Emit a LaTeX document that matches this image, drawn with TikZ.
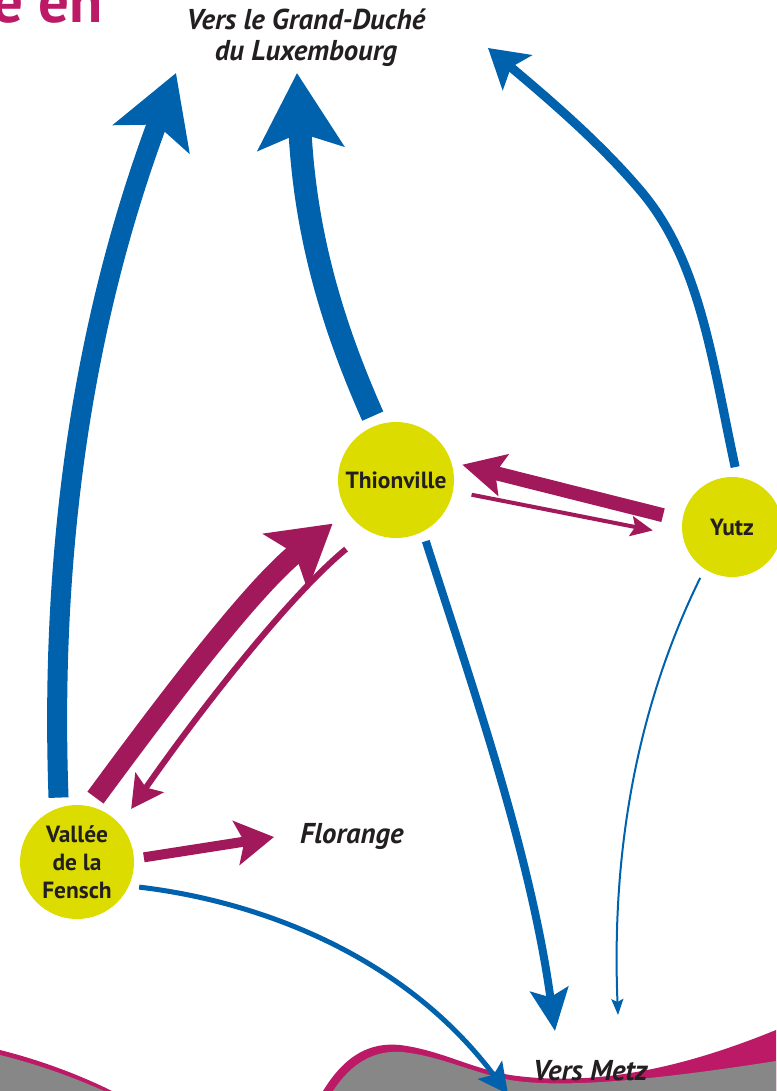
\documentclass[tikz,border=0pt]{standalone}
\usepackage{fontspec}
\setmainfont{PT Sans}
\usetikzlibrary{arrows.meta}
\definecolor{flowblue}{HTML}{0062AD}
\definecolor{flowmag}{HTML}{A2195B}
\definecolor{bandmag}{HTML}{BC1A66}
\definecolor{landgray}{HTML}{878787}
\definecolor{cityyellow}{HTML}{DCDC00}
\definecolor{labelgray}{HTML}{231F20}
\begin{document}
\begin{tikzpicture}[x=0.3mm,y=-0.3mm]\tikzset{city/.style = {circle, fill=cityyellow, inner sep=0pt, outer sep=3mm, align=center, text=labelgray, font=\fontsize{20}{24}\selectfont\bfseries},
	place/.style = {inner sep=0pt, align=center, text=labelgray, font=\fontsize{24.5}{26.5}\selectfont\bfseries\itshape},
	flow/.style n args = {4}{line width=#1, -{Stealth[length=#2, width=#3, inset=#4]}}}

		\useasboundingbox (0,0) rectangle (776,1091);

		\fill[bandmag] (0,1050) .. controls (40,1060) and (80,1075) .. (112,1091) -- (0,1091) -- cycle;
		\fill[landgray] (0,1055) .. controls (40,1065) and (75,1078) .. (104,1091) -- (0,1091) -- cycle;
		\fill[bandmag] (323,1091) .. controls (345,1055) and (370,1042) .. (400,1045) .. controls (440,1050) and (470,1068) .. (510,1075) .. controls (600,1088) and (690,1065) .. (776,1030) -- (776,1091) -- cycle;
		\fill[landgray] (333,1091) .. controls (352,1062) and (375,1050) .. (402,1052) .. controls (440,1056) and (470,1072) .. (510,1080) .. controls (570,1090) and (680,1076) .. (776,1061) -- (776,1091) -- cycle;

		\node[anchor=base east, inner sep=0pt, text=bandmag, font=\fontsize{52}{52}\selectfont\bfseries] (title) at (103,23) {e en};

		\node[city, minimum size=34.8mm] (thion) at (396,480) {Thionville};
		\node[city, minimum size=30mm] (yutz) at (732,527) {Yutz};
		\node[city, minimum size=34.2mm] (vallee) at (77,862) {Vallée\\de la\\Fensch};

		\node[place] (lux) at (306,38) {Vers le Grand-Duché\\du Luxembourg};
		\node[place, anchor=base west] (flor) at (300,843) {Florange};
		\node[place, anchor=base west] (metz) at (533,1080) {Vers Metz};

		\coordinate (luxA) at (176,73);
		\coordinate (luxB) at (297,73);
		\coordinate (luxC) at (488,48);
		\coordinate (metzA) at (555,1031);
		\coordinate (metzB) at (618,1015);
		\coordinate (metzC) at (508,1094);
		\coordinate (florA) at (274,837);

		\draw[flowblue, flow={6mm}{21mm}{24mm}{4.5mm}] (vallee.106) .. controls (50,560) and (80,330) .. (luxA);
		\draw[flowblue, flow={6.9mm}{22.5mm}{25.5mm}{4.5mm}] (thion.110) .. controls (330,320) and (305,230) .. (luxB);
		\draw[flowblue, flow={2.7mm}{11.4mm}{13.5mm}{2.4mm}] (yutz.87) .. controls (712,360) and (700,260) .. (640,190) .. controls (600,143) and (550,100) .. (luxC);
		\draw[flowblue, flow={2.4mm}{12.6mm}{11.4mm}{2.4mm}] (thion.-64) .. controls (470,680) and (530,850) .. (metzA);
		\draw[flowblue, flow={0.6mm}{4.8mm}{3.6mm}{0.9mm}] (yutz.-122) .. controls (650,680) and (610,820) .. (metzB);
		\draw[flowblue, flow={1.5mm}{9mm}{9mm}{1.8mm}] (vallee.-22) .. controls (250,900) and (400,950) .. (metzC);

		\draw[flowmag, flow={6mm}{18mm}{21mm}{3.6mm}, shorten >=2.7mm] (vallee.74) .. controls (160,710) and (250,590) .. (thion.-146);
		\draw[flowmag, flow={1.8mm}{9.6mm}{10.2mm}{1.8mm}, shorten <=5.4mm, shorten >=2.7mm] (thion.-122) .. controls (290,595) and (200,710) .. (vallee.43);
		\draw[flowmag, flow={4.2mm}{12.6mm}{12.6mm}{2.4mm}, shorten <=3mm] (yutz.171) -- (thion.13);
		\draw[flowmag, flow={1.2mm}{6.6mm}{6mm}{1.2mm}, shorten <=2.7mm, shorten >=6mm] (thion.-11) -- (yutz.-173);
		\draw[flowmag, flow={3mm}{11.4mm}{13.2mm}{2.4mm}] (vallee.4) -- (florA);
	\end{tikzpicture}
\end{document}
